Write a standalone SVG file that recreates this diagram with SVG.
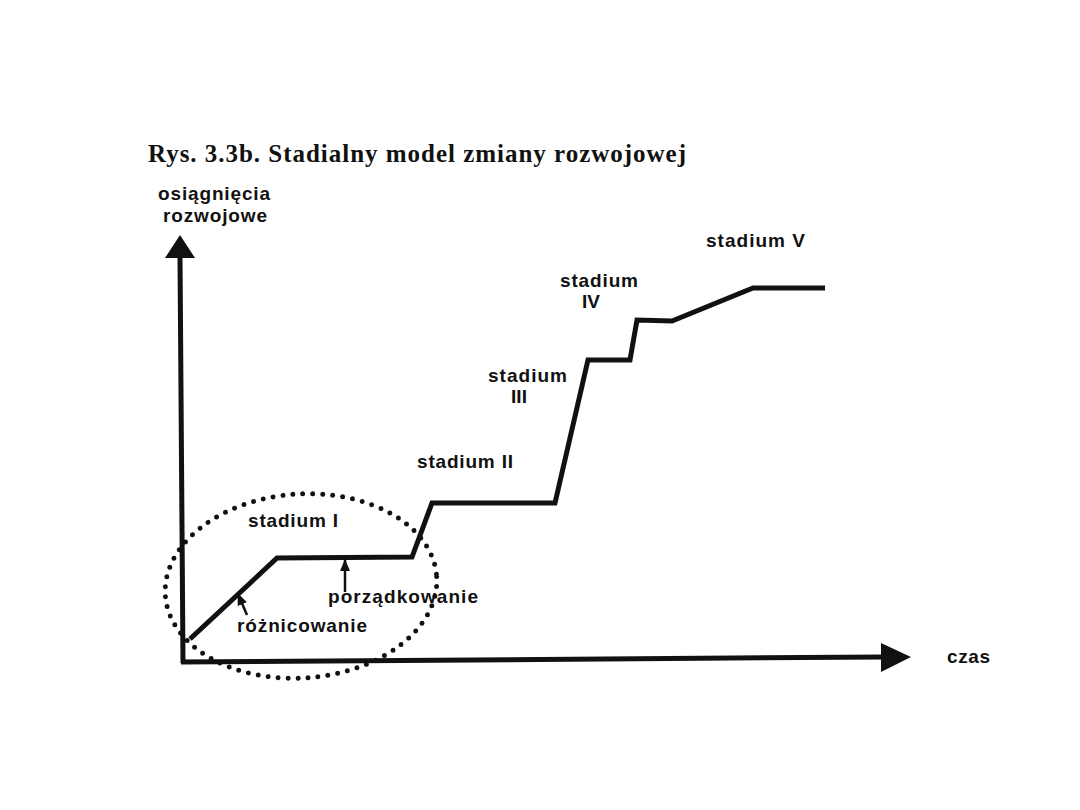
<svg xmlns="http://www.w3.org/2000/svg" width="1080" height="810" viewBox="0 0 1080 810">
<style>
.lbl{font-family:"Liberation Sans",Arial,sans-serif;font-weight:bold;font-size:19px;fill:#111}
.title{font-family:"Liberation Serif","Times New Roman",serif;font-weight:bold;font-size:25px;fill:#111}
.ax{stroke:#111;stroke-width:5;fill:none}
.curve{stroke:#111;stroke-width:5;fill:none;stroke-linejoin:miter}
.thin{stroke:#111;stroke-width:2.5;fill:none}
</style>
<defs>
<marker id="ah" viewBox="0 0 12 10" refX="11" refY="5" markerWidth="12" markerHeight="10" markerUnits="userSpaceOnUse" orient="auto">
<path d="M0,0 L12,5 L0,10 z" fill="#111"/>
</marker>
</defs>
<rect width="1080" height="810" fill="#fff"/>
<text class="title" x="148" y="162" textLength="538" lengthAdjust="spacing">Rys. 3.3b. Stadialny model zmiany rozwojowej</text>

<g id="axes">
<line class="ax" x1="183" y1="663" x2="180" y2="256"/>
<polygon points="180,235 165,258 195,258" fill="#111"/>
<line class="ax" x1="181" y1="662" x2="882" y2="657"/>
<polygon points="911,657 881,643 881,672" fill="#111"/>
</g>

<g id="ellipse">
<ellipse cx="301" cy="586" rx="136" ry="92" transform="rotate(-4 301 586)" fill="none" stroke="#111" stroke-width="5" stroke-linecap="round" stroke-dasharray="0 10"/>
</g>

<g id="curve">
<polyline class="curve" points="190,639 277,558 412,557 432,503 555,503 588,360 630,360 637,320 672,321 753,288 825,288"/>
</g>

<g id="connectors">
<line class="thin" x1="247" y1="615" x2="238" y2="594" marker-end="url(#ah)"/>
<line class="thin" x1="345" y1="592" x2="345" y2="560" marker-end="url(#ah)"/>
</g>

<g id="labels">
<text class="lbl" x="158" y="200" textLength="112" lengthAdjust="spacing">osiągnięcia</text>
<text class="lbl" x="163" y="222" textLength="104" lengthAdjust="spacing">rozwojowe</text>
<text class="lbl" x="706" y="247" textLength="99" lengthAdjust="spacing">stadium V</text>
<text class="lbl" x="560" y="287" textLength="78" lengthAdjust="spacing">stadium</text>
<text class="lbl" x="591" y="308" text-anchor="middle">IV</text>
<text class="lbl" x="488" y="382" textLength="79" lengthAdjust="spacing">stadium</text>
<text class="lbl" x="519" y="403" text-anchor="middle">III</text>
<text class="lbl" x="417" y="468" textLength="96" lengthAdjust="spacing">stadium II</text>
<text class="lbl" x="248" y="527" textLength="90" lengthAdjust="spacing">stadium I</text>
<text class="lbl" x="328" y="603" textLength="150" lengthAdjust="spacing">porządkowanie</text>
<text class="lbl" x="237" y="632" textLength="130" lengthAdjust="spacing">różnicowanie</text>
<text class="lbl" x="947" y="663" textLength="43" lengthAdjust="spacing">czas</text>
</g>
</svg>
